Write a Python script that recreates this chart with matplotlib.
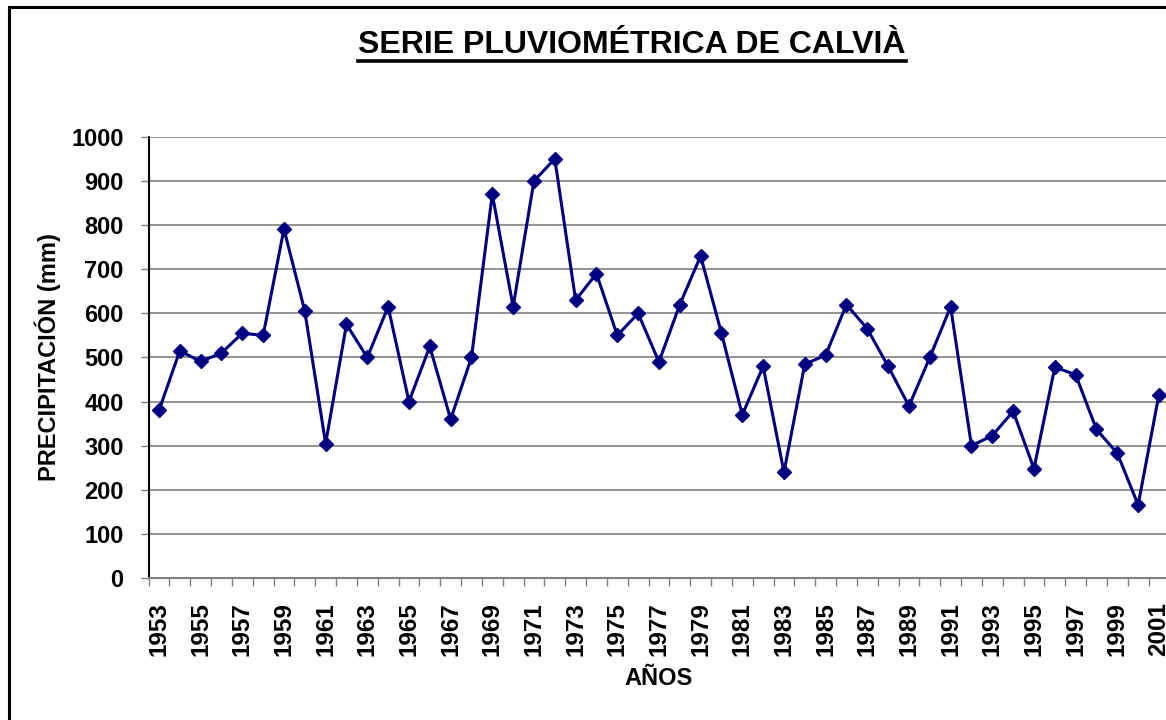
import matplotlib

matplotlib.use("Agg")
import matplotlib.pyplot as plt
from matplotlib.lines import Line2D
from matplotlib.patches import Rectangle
from matplotlib.ticker import FixedLocator, NullFormatter

# annual rainfall at Calvià
years = list(range(1953, 2002))
rain_mm = [
    380, 515, 491, 510, 555, 550, 791, 605, 305, 575,
    500, 615, 400, 525, 360, 500, 870, 615, 900, 950,
    630, 690, 550, 600, 490, 620, 730, 555, 370, 480,
    240, 485, 505, 620, 565, 480, 390, 500, 615, 300,
    323, 378, 248, 478, 461, 337, 283, 166, 416,
]
y_ticks = list(range(0, 1001, 100))

TITLE = "SERIE PLUVIOMÉTRICA DE CALVIÀ"
NAVY = "#000080"
GRID = "#808080"

plt.rcParams["font.family"] = ["Liberation Sans", "DejaVu Sans"]
plt.rcParams["font.weight"] = "bold"

fig = plt.figure(figsize=(11.66, 7.2), dpi=100)
fig.patch.set_facecolor("white")

# plot area runs slightly past the right edge, as in the cropped original
ax = fig.add_axes([0.1274, 0.197, 0.8755, 0.613])

x = list(range(len(years)))
ax.plot(x, rain_mm, "-D", color=NAVY, linewidth=2.2, markersize=7,
        markerfacecolor=NAVY, markeredgecolor=NAVY, clip_on=False, zorder=3)

ax.set_xlim(-0.5, len(years) - 0.5)
ax.set_ylim(0, 1000)

# category axis: tick marks between years, labels every other year
ax.xaxis.set_major_locator(FixedLocator(x[::2]))
ax.set_xticklabels([str(y) for y in years[::2]], rotation=90, fontsize=17.5,
                   fontweight="bold")
ax.xaxis.set_minor_locator(FixedLocator([i - 0.5 for i in range(len(years) + 1)]))
ax.xaxis.set_minor_formatter(NullFormatter())
ax.tick_params(axis="x", which="major", length=0, pad=17)
ax.tick_params(axis="x", which="minor", length=6, width=1, color=GRID, direction="out")

ax.set_yticks(y_ticks)
ax.set_yticklabels([str(v) for v in y_ticks], fontsize=17, fontweight="bold")
ax.tick_params(axis="y", length=6, width=1, color=GRID, direction="out", pad=12)

ax.grid(axis="y", color=GRID, linewidth=1.2)
ax.set_axisbelow(True)
for side in ("top", "right"):
    ax.spines[side].set_visible(False)
ax.spines["left"].set_color("black")
ax.spines["left"].set_linewidth(1.5)
ax.spines["bottom"].set_color(GRID)
ax.spines["bottom"].set_linewidth(1.5)

ax.set_ylabel("PRECIPITACIÓN (mm)", fontsize=17, fontweight="bold", labelpad=7)
ax.set_xlabel("AÑOS", fontsize=17, fontweight="bold", labelpad=8)

title_y = 0.926
title = fig.text(0.542, title_y, TITLE, ha="center", va="baseline", fontsize=23,
                 fontweight="bold")

# underline under the title, sized from the rendered text
fig.canvas.draw()
bb = title.get_window_extent().transformed(fig.transFigure.inverted())
uy = title_y - 8 / 720
fig.add_artist(Line2D([bb.x0, bb.x1], [uy, uy], transform=fig.transFigure,
                      color="black", linewidth=2.6))

# outer chart frame, cut off at right and bottom like the original
fig.add_artist(Rectangle((0.0075, -0.05), 1.1, 1.04, transform=fig.transFigure,
                         fill=False, edgecolor="black", linewidth=2.2))

fig.savefig("out.png", dpi=100, facecolor="white")
